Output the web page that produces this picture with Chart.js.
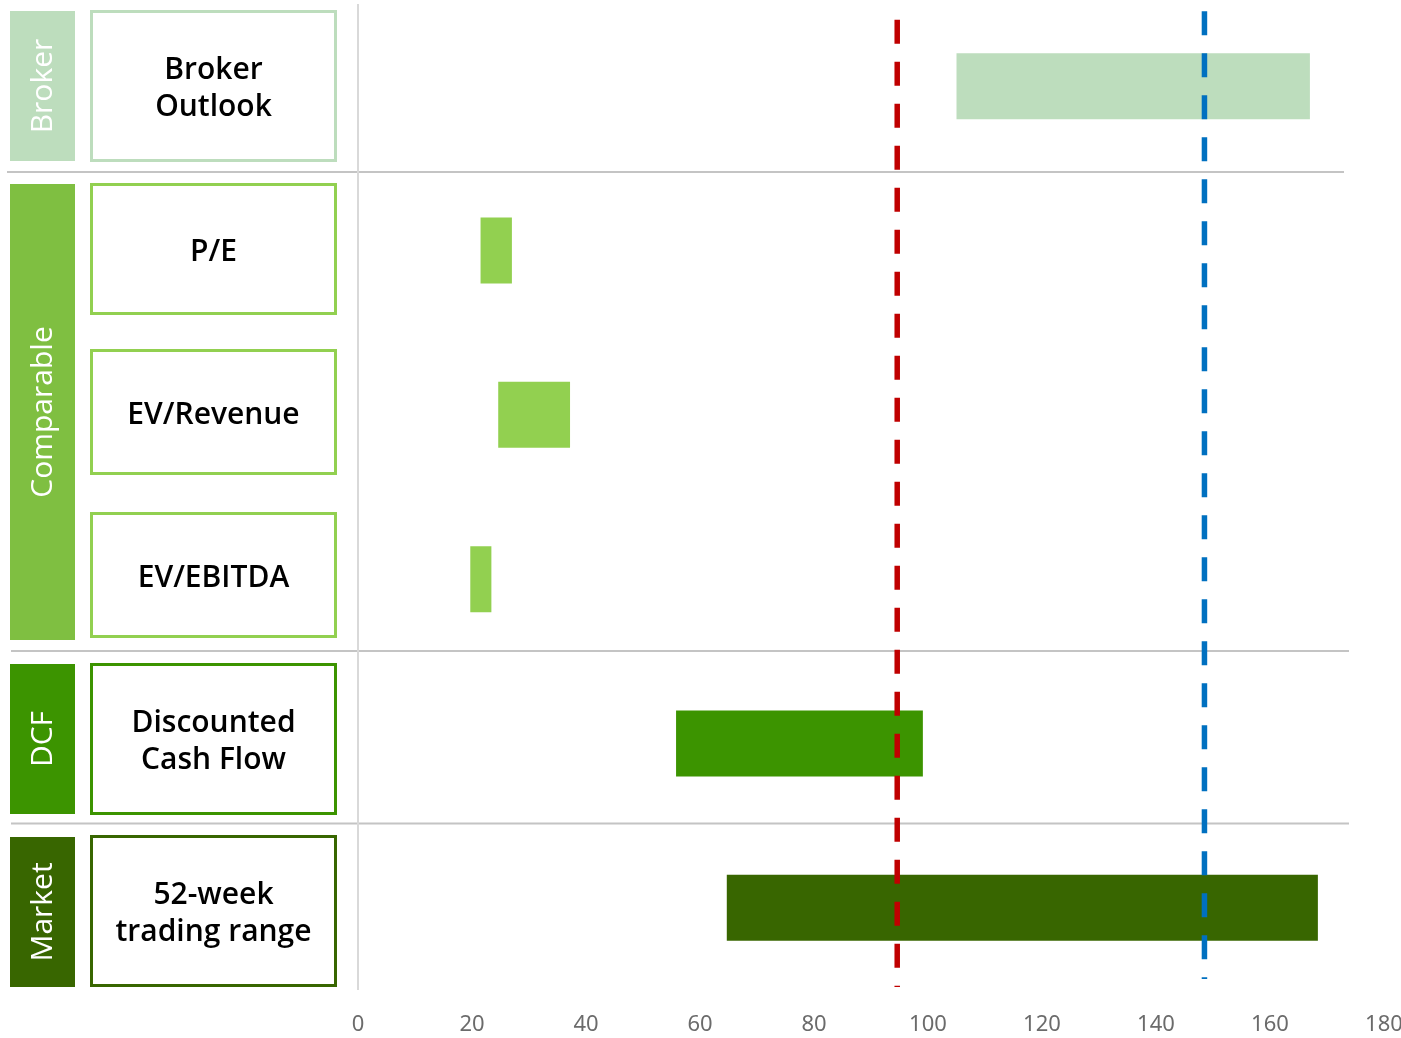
<!DOCTYPE html>
<html>
<head>
<meta charset="utf-8">
<script src="https://cdn.jsdelivr.net/npm/chart.js@4.4.1/dist/chart.umd.min.js"></script>
<style>
  html, body { margin: 0; padding: 0; background: #ffffff; }
  #wrap { width: 1401px; height: 1038px; position: relative; }
</style>
</head>
<body>
<div id="wrap"><canvas id="chart" width="1401" height="1038"></canvas></div>
<script>
// Valuation methods (one row each), drawn top to bottom
const categories = [
  ['Broker', 'Outlook'],
  ['P/E'],
  ['EV/Revenue'],
  ['EV/EBITDA'],
  ['Discounted', 'Cash Flow'],
  ['52-week', 'trading range']
];
// Low and high end of each valuation range
const lowValues  = [105.0, 21.5, 24.6, 19.7, 55.8, 64.7];
const highValues = [167.0, 27.0, 37.2, 23.4, 99.1, 168.4];
// Method groups shown in the left-hand bands
const groupNames = ['Broker', 'Comparable', 'DCF', 'Market'];
const groupOfRow = [0, 1, 1, 1, 2, 3];
// Reference prices marked with dashed vertical lines
const refValues = [94.6, 148.5];
// Value axis ticks
const xTicks = [0, 20, 40, 60, 80, 100, 120, 140, 160, 180];

// ---- styling ----
const groupBandColors = ['#BDDDBD', '#7FBF41', '#3C9400', '#386600'];
const groupBoxColors  = ['#BDDDBD', '#92D050', '#3C9400', '#386600'];
const rowBarColors    = ['#BDDDBD', '#92D050', '#92D050', '#92D050', '#3C9400', '#386600'];
const refColors = ['#C00000', '#0070C0'];
// vertical extent of each dashed line on the hidden 0..1 helper axis (0 = top)
const refSpans = [[0.0159, 0.9970], [0.0074, 0.9888]];

// left panel layout (pixels)
const bandX = [10, 75];
const bandRows = [[11, 161], [184, 640], [664, 814], [837, 987]];
const boxX = [90, 337];
const boxRows = [[10, 162], [183, 315], [349, 475], [512, 638], [663, 815], [835, 987]];
const separators = [[172, 7, 1344], [651, 11, 1349], [823.5, 11, 1349]];

const sideFont = '"Open Sans", "Noto Sans", sans-serif';

const leftPanel = {
  id: 'leftPanel',
  beforeDatasetsDraw(chart) {
    const ctx = chart.ctx;
    const area = chart.chartArea;
    ctx.save();
    // group separators
    ctx.strokeStyle = '#c4c4c4';
    ctx.lineWidth = 2;
    separators.forEach(([y, x0, x1]) => {
      ctx.beginPath(); ctx.moveTo(x0, y); ctx.lineTo(x1, y); ctx.stroke();
    });
    // value axis base line
    ctx.strokeStyle = '#d9d9d9';
    ctx.lineWidth = 2;
    ctx.beginPath();
    ctx.moveTo(area.left, area.top);
    ctx.lineTo(area.left, area.bottom);
    ctx.stroke();

    // group bands with rotated names
    groupNames.forEach((name, g) => {
      const [y0, y1] = bandRows[g];
      ctx.fillStyle = groupBandColors[g];
      ctx.fillRect(bandX[0], y0, bandX[1] - bandX[0], y1 - y0);
      ctx.save();
      ctx.translate((bandX[0] + bandX[1]) / 2 + 1, (y0 + y1) / 2);
      ctx.rotate(-Math.PI / 2);
      ctx.fillStyle = '#ffffff';
      ctx.font = '400 30px ' + sideFont;
      ctx.textAlign = 'center';
      ctx.textBaseline = 'middle';
      ctx.fillText(name, 0, 0);
      ctx.restore();
    });

    // method boxes with their names
    chart.data.labels.forEach((lines, i) => {
      const [y0, y1] = boxRows[i];
      ctx.strokeStyle = groupBoxColors[groupOfRow[i]];
      ctx.lineWidth = 3;
      ctx.strokeRect(boxX[0] + 1.5, y0 + 1.5, boxX[1] - boxX[0] - 3, y1 - y0 - 3);
      ctx.fillStyle = '#000000';
      ctx.font = '600 30px ' + sideFont;
      ctx.textAlign = 'center';
      ctx.textBaseline = 'middle';
      const cx = (boxX[0] + boxX[1]) / 2;
      const cy = (y0 + y1) / 2 + 3;
      const lh = 37;
      lines.forEach((t, k) => {
        ctx.fillText(t, cx, cy + (k - (lines.length - 1) / 2) * lh);
      });
    });
    ctx.restore();
  }
};

const refDatasets = refValues.map((v, i) => ({
  type: 'line',
  data: [{ x: v, y: refSpans[i][0] }, { x: v, y: refSpans[i][1] }],
  xAxisID: 'x',
  yAxisID: 'yRef',
  borderColor: refColors[i],
  borderWidth: 5.5,
  borderDash: [24, 18],
  borderCapStyle: 'butt',
  pointRadius: 0,
  fill: false,
  clip: false,
  order: 0
}));

new Chart(document.getElementById('chart'), {
  type: 'bar',
  data: {
    labels: categories,
    datasets: [
      {
        type: 'bar',
        data: lowValues.map((lo, i) => [lo, highValues[i]]),
        backgroundColor: rowBarColors,
        borderWidth: 0,
        grouped: false,
        barPercentage: 1,
        categoryPercentage: 0.4017,
        yAxisID: 'y',
        xAxisID: 'x',
        order: 1
      },
      ...refDatasets
    ]
  },
  options: {
    indexAxis: 'y',
    responsive: false,
    animation: false,
    layout: { padding: { left: 358, top: 4, right: 0, bottom: 0 } },
    plugins: { legend: { display: false }, tooltip: { enabled: false } },
    scales: {
      x: {
        type: 'linear',
        position: 'bottom',
        min: 0,
        max: 180,
        offset: false,
        afterBuildTicks: (scale) => { scale.ticks = xTicks.map(v => ({ value: v })); },
        afterFit: (scale) => { scale.paddingRight = 17; scale.height = 48; },
        grid: { display: false, drawTicks: false },
        border: { display: false },
        ticks: {
          padding: 22,
          color: '#6b6b6b',
          font: { family: '"Noto Sans", sans-serif', size: 22, lineHeight: 1.2 }
        }
      },
      y: {
        type: 'category',
        display: false,
        offset: true
      },
      yRef: {
        type: 'linear',
        display: false,
        offset: false,
        min: 0,
        max: 1,
        reverse: true
      }
    }
  },
  plugins: [leftPanel]
});
</script>
</body>
</html>
